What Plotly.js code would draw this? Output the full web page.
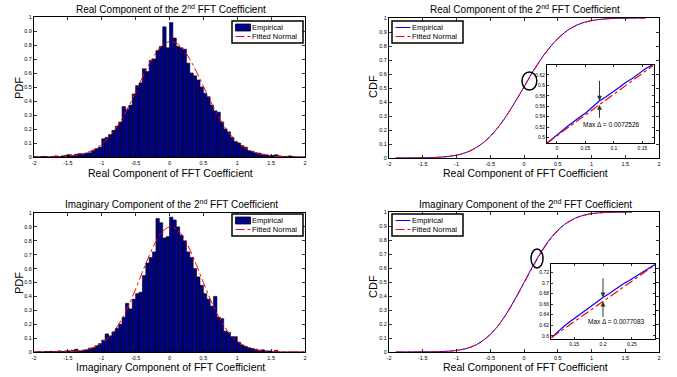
<!DOCTYPE html>
<html>
<head>
<meta charset="utf-8">
<script src="https://cdn.plot.ly/plotly-3.0.1.min.js"></script>
<style>html,body{margin:0;padding:0;background:#fff;}#chart{width:677px;height:377px;}</style>
</head>
<body>
<div id="chart"></div>
<script>
// ---------- data ----------
const binCenters = [-1.975,-1.925,-1.875,-1.825,-1.775,-1.725,-1.675,-1.625,-1.575,-1.525,-1.475,-1.425,-1.375,-1.325,-1.275,-1.225,-1.175,-1.125,-1.075,-1.025,-0.975,-0.925,-0.875,-0.825,-0.775,-0.725,-0.675,-0.625,-0.575,-0.525,-0.475,-0.425,-0.375,-0.325,-0.275,-0.225,-0.175,-0.125,-0.075,-0.025,0.025,0.075,0.125,0.175,0.225,0.275,0.325,0.375,0.425,0.475,0.525,0.575,0.625,0.675,0.725,0.775,0.825,0.875,0.925,0.975,1.025,1.075,1.125,1.175,1.225,1.275,1.325,1.375,1.425,1.475,1.525,1.575,1.625,1.675,1.725,1.775,1.825,1.875,1.925,1.975];

const realPdf = [0.004,0,0.004,0.004,0,0.004,0.008,0.004,0.008,0.012,
  0.016,0.012,0.020,0.024,0.020,0.028,0.030,0.045,0.060,0.070,
  0.130,0.140,0.160,0.190,0.220,0.250,0.360,0.340,0.370,0.450,
  0.510,0.530,0.630,0.610,0.690,0.700,0.760,0.790,0.930,0.780,
  0.960,0.850,0.790,0.780,0.770,0.670,0.600,0.580,0.550,0.500,
  0.455,0.430,0.370,0.330,0.320,0.250,0.200,0.180,0.140,0.110,
  0.100,0.080,0.070,0.045,0.040,0.030,0.028,0.020,0.016,0.012,
  0.012,0.016,0.008,0.004,0.004,0.008,0.004,0,0,0];

const imagPdf = [0,0.004,0,0.004,0.004,0.004,0.004,0.008,0.004,0.008,
  0.008,0.012,0.020,0.008,0.012,0.016,0.028,0.030,0.045,0.060,
  0.085,0.130,0.115,0.145,0.170,0.200,0.250,0.350,0.310,0.380,
  0.420,0.430,0.550,0.640,0.680,0.720,0.960,0.930,0.820,0.830,
  0.970,0.950,0.900,0.840,0.800,0.720,0.680,0.600,0.540,0.480,
  0.420,0.380,0.330,0.400,0.250,0.240,0.150,0.140,0.110,0.110,
  0.070,0.050,0.040,0.030,0.025,0.020,0.012,0.016,0.008,0.008,
  0.004,0.012,0,0,0,0,0,0,0,0];

const fitX = [-2,-1.9,-1.8,-1.7,-1.6,-1.5,-1.4,-1.3,-1.2,-1.1,-1,-0.9,-0.8,-0.7,-0.6,-0.5,-0.4,-0.3,-0.2,-0.1,0,0.1,0.2,0.3,0.4,0.5,0.6,0.7,0.8,0.9,1,1.1,1.2,1.3,1.4,1.5,1.6,1.7,1.8,1.9,2];
const realFit = [0.0001,0.0003,0.0007,0.0015,0.0031,0.0061,0.0114,0.0204,0.0349,0.0574,
  0.0904,0.1366,0.1977,0.274,0.3644,0.464,0.567,0.6636,0.7443,0.8002,
  0.8243,0.8139,0.770,0.698,0.607,0.5056,0.4036,0.3088,0.2264,0.159,
  0.1072,0.0692,0.0428,0.0254,0.0144,0.0078,0.0041,0.002,0.001,0.0005,0.0002];
const imagFit = [0,0.0001,0.0002,0.0005,0.0011,0.0025,0.0053,0.0106,0.0203,0.0369,
  0.0636,0.1043,0.1625,0.2406,0.3384,0.4523,0.575,0.693,0.7957,0.8676,
  0.899,0.8854,0.8287,0.737,0.623,0.5004,0.382,0.277,0.191,0.125,
  0.078,0.0462,0.026,0.0139,0.007,0.0034,0.0016,0.0007,0.0003,0.0001,0];

const realCdfX = [-1.9,-1.8,-1.7,-1.6,-1.5,-1.4,-1.3,-1.2,-1.1,-1,-0.9,-0.8,-0.7,-0.6,-0.5,-0.4,-0.3,-0.2,-0.1,0,0.1,0.2,0.3,0.4,0.5,0.6,0.7,0.8,0.9,1,1.1,1.2,1.3,1.4,1.5,1.6,1.7,1.8];
const realCdfEmp = [0.0002,0.0004,0.0008,0.0012,0.0018,0.0027,0.0045,0.0075,0.0125,0.0200,
  0.0325,0.0505,0.0770,0.1105,0.1545,0.2090,0.2735,0.3470,0.4260,0.5075,
  0.5935,0.6700,0.7395,0.8005,0.8525,0.8955,0.9285,0.9530,0.9700,0.9815,
  0.9890,0.9935,0.9965,0.9978,0.9988,0.9994,0.9997,1.0];
const realCdfFit = [0.00005,0.0001,0.0002,0.0005,0.0010,0.0021,0.0039,0.0070,0.0122,0.0204,
  0.0330,0.0512,0.0768,0.1110,0.1552,0.2095,0.2736,0.3461,0.4247,0.5066,
  0.5881,0.6660,0.7373,0.7999,0.8525,0.8950,0.9279,0.9521,0.9694,0.9811,
  0.9888,0.9936,0.9965,0.9982,0.9991,0.9995,0.9998,0.9999];

const imagCdfX = [-1.9,-1.8,-1.7,-1.6,-1.5,-1.4,-1.3,-1.2,-1.1,-1,-0.9,-0.8,-0.7,-0.6,-0.5,-0.4,-0.3,-0.2,-0.1,0,0.1,0.2,0.3,0.4,0.5,0.6,0.7,0.8,0.9,1,1.1,1.2,1.3,1.4,1.5,1.6];
const imagCdfEmp = [0.0002,0.0003,0.0005,0.0008,0.0012,0.0018,0.0022,0.0035,0.0062,0.0110,
  0.0195,0.0330,0.0540,0.0850,0.1250,0.1780,0.2440,0.3215,0.4075,0.4965,
  0.5875,0.6727,0.7500,0.8160,0.8700,0.9110,0.9420,0.9640,0.9790,0.9880,
  0.9935,0.9965,0.9982,0.9990,0.9996,1.0];
const imagCdfFit = [0.00001,0.00002,0.0001,0.0001,0.0003,0.0007,0.0016,0.0032,0.0061,0.0113,
  0.0200,0.0338,0.0545,0.0843,0.1249,0.1774,0.2420,0.3177,0.4020,0.4910,
  0.5805,0.6660,0.7436,0.8107,0.8657,0.9085,0.9403,0.9628,0.9777,0.9873,
  0.9931,0.9964,0.9982,0.9992,0.9996,0.9998];

// zoomed insets
const inset1X = [-0.0175,-0.006,0.0055,0.0171,0.0286,0.0401,0.0516,0.0631,0.0747,0.0862,0.0977,0.1092,0.1207,0.1323,0.1438,0.1553,0.169];
const inset1Emp = [0.4895,0.4990,0.5095,0.5200,0.5300,0.5395,0.5480,0.5595,0.5703,0.5780,0.5865,0.5960,0.6055,0.6130,0.6225,0.6320,0.6400];
const inset1Fit = [0.4895,0.4987,0.5078,0.5171,0.5263,0.5354,0.5446,0.5538,0.5630,0.5722,0.5814,0.5905,0.5997,0.6089,0.6181,0.6273,0.6380];
const inset2X = [0.111,0.1225,0.134,0.1455,0.157,0.1685,0.18,0.1915,0.2,0.211,0.2225,0.234,0.2455,0.257,0.2685,0.28,0.29];
const inset2Emp = [0.5968,0.6086,0.6194,0.6292,0.6385,0.6469,0.6562,0.6652,0.6727,0.6800,0.6893,0.6976,0.7049,0.7132,0.7206,0.7284,0.7351];
const inset2Fit = [0.5968,0.6056,0.6144,0.6232,0.6320,0.6409,0.6497,0.6585,0.6650,0.6735,0.6823,0.6911,0.6999,0.7087,0.7176,0.7264,0.7341];

// max-difference markers: [x, empirical y, fitted y, upper tail y, lower tail y]
const maxDelta1 = [0.0747, 0.5703, 0.5630, 0.6116, 0.5350];
const maxDelta2 = [0.2, 0.6727, 0.6650, 0.7117, 0.6330];
const maxDeltaText = ['Max \u0394 = 0.0072526', 'Max \u0394 = 0.0077083'];

// tick labels
const mainXTicks = [-2,-1.5,-1,-0.5,0,0.5,1,1.5,2];
const mainXLabels = ['-2','-1.5','-1','-0.5','0','0.5','1','1.5','2'];
const mainYTicks = [0,0.1,0.2,0.3,0.4,0.5,0.6,0.7,0.8,0.9,1];
const mainYLabels = ['0','0.1','0.2','0.3','0.4','0.5','0.6','0.7','0.8','0.9','1'];
const in1XTicks = [0,0.05,0.1,0.15];
const in1XLabels = ['0','0.05','0.1','0.15'];
const in1YTicks = [0.5,0.52,0.54,0.56,0.58,0.6,0.62];
const in1YLabels = ['0.5','0.52','0.54','0.56','0.58','0.6','0.62'];
const in2XTicks = [0.15,0.2,0.25];
const in2XLabels = ['0.15','0.2','0.25'];
const in2YTicks = [0.6,0.62,0.64,0.66,0.68,0.7,0.72];
const in2YLabels = ['0.6','0.62','0.64','0.66','0.68','0.7','0.72'];

// ---------- drawing ----------
const FONT = 'Liberation Sans, Arial, Helvetica, sans-serif';
const W = 677, H = 377;
const px = v => v / W;
const py = v => 1 - v / H;

const BAR_FILL = '#00008f';
const barStyle = {color: BAR_FILL, line: {color: '#000000', width: 0.6}};
const fitLine = {color: '#ff0000', width: 1, dash: 'dashdot'};
const empLine = {color: '#0000ff', width: 1};

const traces = [
  {type:'bar', x:binCenters, y:realPdf, width:0.05, marker:barStyle, name:'Empirical', xaxis:'x', yaxis:'y'},
  {type:'scatter', mode:'lines', x:fitX, y:realFit, line:Object.assign({shape:'spline'}, fitLine), name:'Fitted Normal', xaxis:'x', yaxis:'y'},

  {type:'scatter', mode:'lines', x:realCdfX, y:realCdfEmp, line:Object.assign({shape:'spline'}, empLine), name:'Empirical', xaxis:'x2', yaxis:'y2'},
  {type:'scatter', mode:'lines', x:realCdfX, y:realCdfFit, line:Object.assign({shape:'spline'}, fitLine), name:'Fitted Normal', xaxis:'x2', yaxis:'y2'},

  {type:'bar', x:binCenters, y:imagPdf, width:0.05, marker:barStyle, name:'Empirical', xaxis:'x3', yaxis:'y3'},
  {type:'scatter', mode:'lines', x:fitX, y:imagFit, line:Object.assign({shape:'spline'}, fitLine), name:'Fitted Normal', xaxis:'x3', yaxis:'y3'},

  {type:'scatter', mode:'lines', x:imagCdfX, y:imagCdfEmp, line:Object.assign({shape:'spline'}, empLine), name:'Empirical', xaxis:'x4', yaxis:'y4'},
  {type:'scatter', mode:'lines', x:imagCdfX, y:imagCdfFit, line:Object.assign({shape:'spline'}, fitLine), name:'Fitted Normal', xaxis:'x4', yaxis:'y4'},

  {type:'scatter', mode:'lines', x:inset1X, y:inset1Emp, line:{color:'#0000ff', width:1.2}, name:'Empirical', xaxis:'x5', yaxis:'y5'},
  {type:'scatter', mode:'lines', x:inset1X, y:inset1Fit, line:{color:'#ff0000', width:1.2, dash:'dashdot'}, name:'Fitted Normal', xaxis:'x5', yaxis:'y5'},
  {type:'scatter', mode:'lines', x:inset2X, y:inset2Emp, line:{color:'#0000ff', width:1.2}, name:'Empirical', xaxis:'x6', yaxis:'y6'},
  {type:'scatter', mode:'lines', x:inset2X, y:inset2Fit, line:{color:'#ff0000', width:1.2, dash:'dashdot'}, name:'Fitted Normal', xaxis:'x6', yaxis:'y6'}
];
traces.forEach(t => { t.showlegend = false; });

function ax(extra) {
  return Object.assign({
    showline:true, linecolor:'#000', linewidth:1, mirror:'ticks',
    ticks:'inside', ticklen:3, tickwidth:0.8, tickcolor:'#000',
    tickfont:{size:5.5, family:FONT, color:'#000'},
    showgrid:false, zeroline:false, fixedrange:true, tickmode:'array'
  }, extra);
}

const mainX = (dom, anchor) => ax({domain:dom, range:[-2,2], tickvals:mainXTicks, ticktext:mainXLabels, anchor:anchor});
const mainY = (dom, anchor) => ax({domain:dom, range:[0,1], tickvals:mainYTicks, ticktext:mainYLabels, anchor:anchor});

const leftDom = [px(34), px(305)];
const rightDom = [px(389), px(659)];

function txt(x, y, text, size, extra) {
  return Object.assign({xref:'paper', yref:'paper', x:x, y:y, text:text, showarrow:false,
    font:{size:size, family:FONT, color:'#000'}, xanchor:'center', yanchor:'middle'}, extra || {});
}

function arrow(xr, yr, x, yHead, yTail) {
  return {xref:xr, yref:yr, axref:xr, ayref:yr, x:x, y:yHead, ax:x, ay:yTail, text:'',
    showarrow:true, arrowhead:2, arrowsize:1, arrowwidth:1, arrowcolor:'#333', standoff:0, startstandoff:0};
}

// legend boxes (drawn from the trace names and styles)
const shapes = [
  {type:'circle', xref:'x2', yref:'y2', x0:-0.03, x1:0.19, y0:0.485, y1:0.615, line:{color:'#000', width:1.5}},
  {type:'circle', xref:'x4', yref:'y4', x0:0.104, x1:0.282, y0:0.600, y1:0.736, line:{color:'#000', width:1.5}}
];
const annotations = [];
function legendBox(x0, y0, first, second) {
  shapes.push({type:'rect', xref:'paper', yref:'paper', x0:px(x0), x1:px(x0+71), y0:py(y0+22), y1:py(y0),
    fillcolor:'#fff', line:{color:'#000', width:1.5}, layer:'above'});
  const ys = [y0+6.5, y0+15.5];
  [first, second].forEach((t, i) => {
    if (t.type === 'bar') {
      shapes.push({type:'rect', xref:'paper', yref:'paper', x0:px(x0+3.5), x1:px(x0+18.5), y0:py(ys[i]+3.5), y1:py(ys[i]-3.5),
        fillcolor:t.marker.color, line:{color:'#000', width:0.8}, layer:'above'});
    } else {
      shapes.push({type:'line', xref:'paper', yref:'paper', x0:px(x0+3.5), x1:px(x0+18.5), y0:py(ys[i]), y1:py(ys[i]),
        line:{color:t.line.color, width:1, dash:t.line.dash || 'solid'}, layer:'above'});
    }
    annotations.push(txt(px(x0+18.5), py(ys[i]), t.name, 7.5, {xanchor:'left', borderpad:0}));
  });
}
legendBox(232, 21, traces[0], traces[1]);
legendBox(392, 21, traces[2], traces[3]);
legendBox(232, 214, traces[4], traces[5]);
legendBox(392, 214, traces[6], traces[7]);

annotations.push(
  txt(px(171), py(9.5), 'Real Component of the 2<sup>nd</sup> FFT Coefficient', 10),
  txt(px(525), py(9.5), 'Real Component of the 2<sup>nd</sup> FFT Coefficient', 10),
  txt(px(171), py(204), 'Imaginary Component of the 2<sup>nd</sup> FFT Coefficient', 10),
  txt(px(525.5), py(204), 'Imaginary Component of the 2<sup>nd</sup> FFT Coefficient', 10),
  txt(px(170), py(172.5), 'Real Component of FFT Coefficient', 10.5),
  txt(px(525), py(172.5), 'Real Component of FFT Coefficient', 10.5),
  txt(px(170), py(366.5), 'Imaginary Component of FFT Coefficient', 10.5),
  txt(px(525), py(366.5), 'Real Component of FFT Coefficient', 10.5),
  txt(px(19), py(88), 'PDF', 11, {textangle:-90}),
  txt(px(19), py(283), 'PDF', 11, {textangle:-90}),
  txt(px(373), py(87), 'CDF', 11, {textangle:-90}),
  txt(px(373), py(287), 'CDF', 11, {textangle:-90}),
  arrow('x5', 'y5', maxDelta1[0], maxDelta1[1], maxDelta1[3]),
  arrow('x5', 'y5', maxDelta1[0], maxDelta1[2], maxDelta1[4]),
  arrow('x6', 'y6', maxDelta2[0], maxDelta2[1], maxDelta2[3]),
  arrow('x6', 'y6', maxDelta2[0], maxDelta2[2], maxDelta2[4]),
  {xref:'x5', yref:'y5', x:0.096, y:0.525, text:maxDeltaText[0], showarrow:false, font:{size:6.5, family:FONT, color:'#000'}, xanchor:'center', yanchor:'middle'},
  {xref:'x6', yref:'y6', x:0.2225, y:0.628, text:maxDeltaText[1], showarrow:false, font:{size:6.5, family:FONT, color:'#000'}, xanchor:'center', yanchor:'middle'}
);

const inTick = {size:5, family:FONT, color:'#000'};
const layout = {
  width:W, height:H, autosize:false,
  margin:{l:0, r:0, t:0, b:0},
  paper_bgcolor:'#fff', plot_bgcolor:'#fff',
  font:{family:FONT, color:'#000'},
  bargap:0, showlegend:false,
  xaxis: mainX(leftDom, 'y'),
  yaxis: mainY([py(157), py(17)], 'x'),
  xaxis2: mainX(rightDom, 'y2'),
  yaxis2: mainY([py(158), py(18)], 'x2'),
  xaxis3: mainX(leftDom, 'y3'),
  yaxis3: mainY([py(352), py(213)], 'x3'),
  xaxis4: mainX(rightDom, 'y4'),
  yaxis4: mainY([py(352), py(212)], 'x4'),
  xaxis5: ax({domain:[px(547), px(654)], range:[-0.0175, 0.1705], tickvals:in1XTicks, ticktext:in1XLabels, anchor:'y5', ticklen:2, tickfont:inTick}),
  yaxis5: ax({domain:[py(143), py(65)], range:[0.4895, 0.639], tickvals:in1YTicks, ticktext:in1YLabels, anchor:'x5', ticklen:2, tickfont:inTick}),
  xaxis6: ax({domain:[px(551), px(655)], range:[0.11, 0.29], tickvals:in2XTicks, ticktext:in2XLabels, anchor:'y6', ticklen:2, tickfont:inTick}),
  yaxis6: ax({domain:[py(339), py(264)], range:[0.594, 0.736], tickvals:in2YTicks, ticktext:in2YLabels, anchor:'x6', ticklen:2, tickfont:inTick}),
  shapes: shapes,
  annotations: annotations
};

Plotly.newPlot('chart', traces, layout, {displayModeBar:false, staticPlot:true});
</script>
</body>
</html>
